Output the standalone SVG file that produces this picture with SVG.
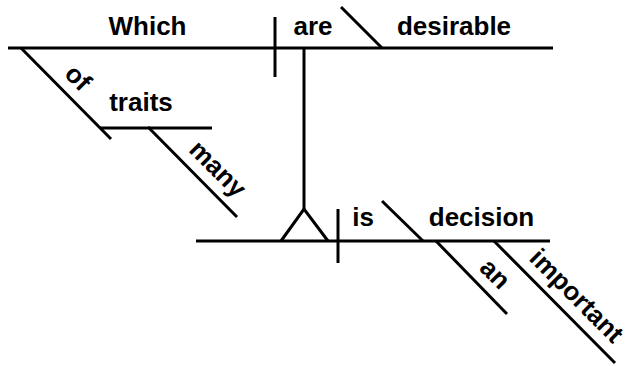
<svg xmlns="http://www.w3.org/2000/svg" width="629" height="366" viewBox="0 0 629 366">
<style>
.ln{stroke:#000;stroke-width:3;fill:none;stroke-linecap:butt}
text{font-family:"Liberation Sans",Arial,Helvetica,sans-serif;font-weight:bold;font-size:26px;fill:#000;text-anchor:middle}
</style>
<rect width="629" height="366" fill="#fff"/>
<g id="connectors">
<line class="ln" x1="304" y1="48" x2="304" y2="209"/>
</g>
<g id="clause-main">
<line class="ln" x1="8" y1="48" x2="553" y2="48"/>
<line class="ln" x1="275" y1="17" x2="275" y2="77"/>
<line class="ln" x1="341" y1="7" x2="382" y2="48"/>
</g>
<g id="node-which"><text x="147.5" y="35">Which</text></g>
<g id="node-are"><text x="313" y="35">are</text></g>
<g id="node-desirable"><text x="454" y="35">desirable</text></g>
<g id="node-of">
<line class="ln" x1="21" y1="48" x2="111" y2="139"/>
<text transform="translate(72,84) rotate(45)" x="0" y="0">of</text>
</g>
<g id="node-traits">
<line class="ln" x1="100" y1="128" x2="212" y2="128"/>
<text x="141" y="111">traits</text>
</g>
<g id="node-many">
<line class="ln" x1="148" y1="127" x2="237" y2="217"/>
<text transform="translate(211.7,175) rotate(45)" x="0" y="0">many</text>
</g>
<g id="clause-sub">
<line class="ln" x1="196" y1="241" x2="550" y2="241"/>
<polyline class="ln" points="281,241 304,209 328,241"/>
<line class="ln" x1="338" y1="209" x2="338" y2="263"/>
<line class="ln" x1="382" y1="201" x2="423" y2="241"/>
</g>
<g id="node-is"><text x="363" y="226">is</text></g>
<g id="node-decision"><text x="481.5" y="226">decision</text></g>
<g id="node-an">
<line class="ln" x1="436" y1="241" x2="507" y2="314"/>
<text transform="translate(489,280) rotate(45)" x="0" y="0">an</text>
</g>
<g id="node-important">
<line class="ln" x1="494" y1="241" x2="615" y2="363"/>
<text transform="translate(570.5,302) rotate(45)" x="0" y="0">important</text>
</g>
</svg>
